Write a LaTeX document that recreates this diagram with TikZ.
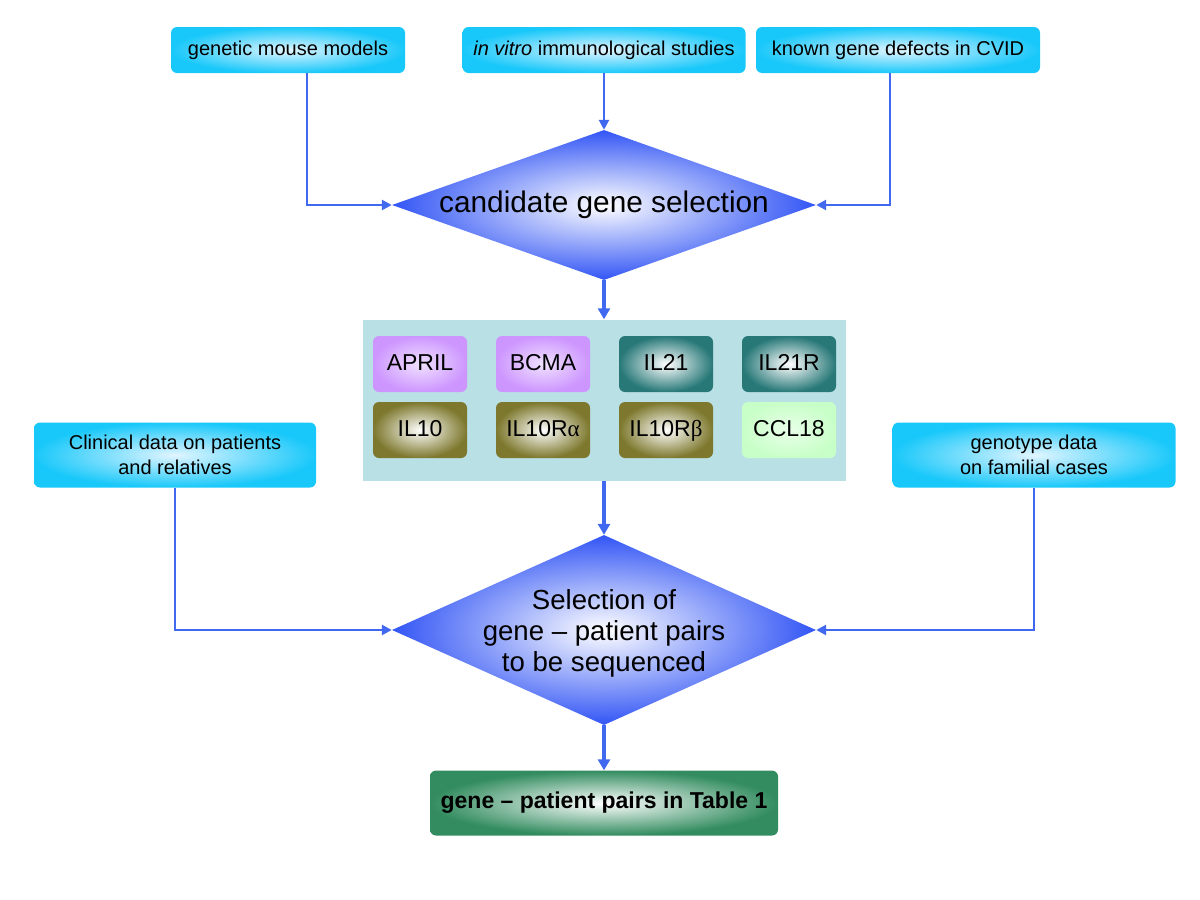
\documentclass[tikz,border=0pt]{standalone}
\usepackage{fontspec}
\setmainfont{Liberation Sans}
\newfontfamily\greekfont{Liberation Serif}
\usetikzlibrary{shapes.geometric,arrows.meta}
\definecolor{linkblue}{RGB}{65,105,240}
\definecolor{cyanout}{RGB}{25,200,250}
\definecolor{cyanin}{RGB}{225,245,255}
\definecolor{diamout}{RGB}{50,85,245}
\definecolor{panelteal}{RGB}{185,224,228}
\definecolor{violetout}{RGB}{205,150,255}
\definecolor{violetin}{RGB}{240,225,255}
\definecolor{tealout}{RGB}{40,120,120}
\definecolor{oliveout}{RGB}{125,120,45}
\definecolor{mintout}{RGB}{200,255,200}
\definecolor{tableout}{RGB}{50,140,95}
\tikzset{
 srcbox/.style={rectangle,rounded corners=6pt,inner color=cyanin,outer color=cyanout,
   align=center,font=\fontsize{20}{25}\selectfont},
 genebox/.style={rectangle,rounded corners=6pt,minimum width=94pt,minimum height=56pt,
   text height=17pt,text depth=5pt,font=\fontsize{23}{27}\selectfont},
 violetbox/.style={genebox,inner color=violetin,outer color=violetout},
 tealbox/.style={genebox,inner color=white,outer color=tealout},
 olivebox/.style={genebox,inner color=white,outer color=oliveout},
 mintbox/.style={genebox,inner color=white!60!mintout,outer color=mintout},
 choice/.style={diamond,inner sep=0pt,inner color=white,outer color=diamout,
   minimum width=424pt},
 link/.style={linkblue,line width=2.5pt,-{Triangle[length=10pt,width=10pt]}},
 thicklink/.style={linkblue,line width=4.5pt,-{Triangle[length=11pt,width=12pt]}}
}
\begin{document}
\begin{tikzpicture}[x=1pt,y=-1pt]
 \useasboundingbox (0,0) rectangle (1200,900);
 % sources
 \node[srcbox,minimum width=234pt,minimum height=46pt] (mouse) at (288,50) {genetic mouse models};
 \node[srcbox,minimum width=283pt,minimum height=46pt] (vitro) at (604,50) {\textit{in vitro} immunological studies};
 \node[srcbox,minimum width=284pt,minimum height=46pt] (known) at (898,50) {known gene defects in CVID};
 \node[choice,aspect=2.83,minimum height=150pt,font=\fontsize{29.8}{34}\selectfont] (cand) at (604,205) {candidate gene selection};
 % candidate genes
 \node[fill=panelteal,minimum width=483pt,minimum height=161pt] (genes) at (604,400) {};
 \node[violetbox] (april) at (420,364) {APRIL};
 \node[violetbox] (bcma) at (543,364) {BCMA};
 \node[tealbox] (il21) at (666,364) {IL21};
 \node[tealbox] (il21r) at (789,364) {IL21R};
 \node[olivebox] (il10) at (420,430) {IL10};
 \node[olivebox] (il10ra) at (543,430) {IL10R{\greekfont α}};
 \node[olivebox] (il10rb) at (666,430) {IL10R{\greekfont β}};
 \node[mintbox] (ccl18) at (789,430) {CCL18};
 % patient data
 \node[srcbox,minimum width=282pt,minimum height=65pt] (clin) at (175,455) {Clinical data on patients\\and relatives};
 \node[srcbox,minimum width=283pt,minimum height=65pt] (geno) at (1034,455) {genotype data\\on familial cases};
 \node[choice,minimum height=190pt,
   label={[align=center,font=\fontsize{27.6}{31}\selectfont,yshift=-3pt]center:Selection of\\gene -- patient pairs\\to be sequenced}] (sel) at (604,630) {};
 \node[rectangle,rounded corners=6pt,minimum width=348pt,minimum height=65pt,inner color=white,
   outer color=tableout,font=\bfseries\fontsize{23}{27}\selectfont] (table) at (604,803) {gene -- patient pairs in Table 1};
 % connectors
 \draw[link] ([xshift=19pt]mouse.south) |- (cand.west);
 \draw[link] (vitro.south) -- (cand.north);
 \draw[link] ([xshift=-8pt]known.south) |- (cand.east);
 \draw[thicklink] (cand.south) -- (genes.north);
 \draw[thicklink] (genes.south) -- (sel.north);
 \draw[link] (clin.south) |- (sel.west);
 \draw[link] (geno.south) |- (sel.east);
 \draw[thicklink] (sel.south) -- (table.north);
\end{tikzpicture}
\end{document}
